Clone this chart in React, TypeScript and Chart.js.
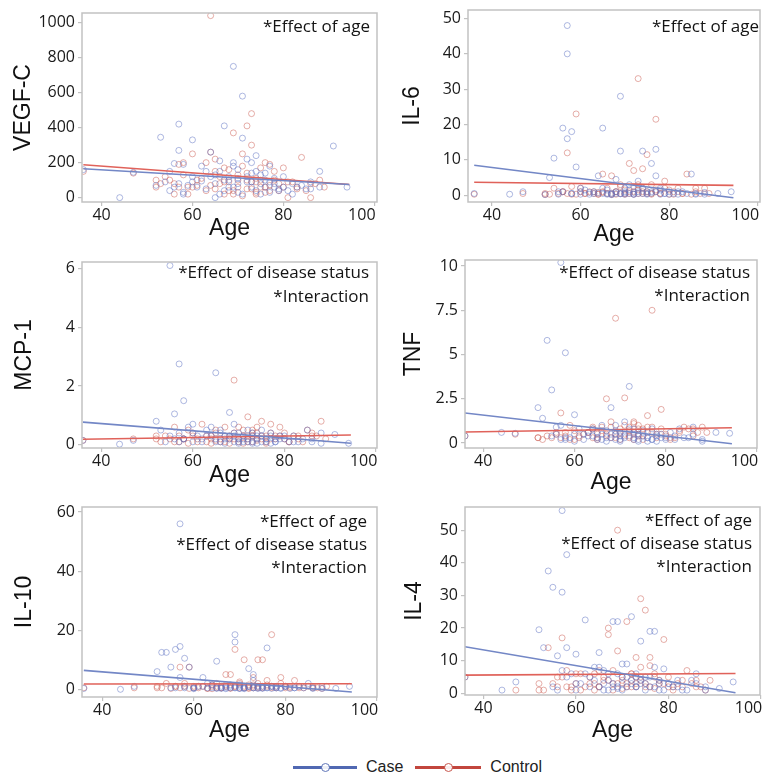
import React, { useEffect, useRef } from "react";
import { Chart, registerables } from "chart.js";

Chart.register(...registerables);

// ---------- data ----------
const caseAges = [36, 44, 47, 52, 53, 54, 55, 56, 56, 57, 57, 57, 58, 58, 59, 60, 60, 61, 62, 63, 64, 65, 65, 66, 67, 67, 68, 68, 69, 69, 69, 70, 70, 71, 71, 72, 72, 73, 73, 74, 74, 75, 76, 76, 77, 77, 78, 78, 79, 80, 81, 82, 83, 85, 86, 88, 91, 94,
  55, 58, 60, 62, 63, 64, 65, 66, 66, 67, 68, 69, 70, 70, 71, 72, 73, 73, 74, 75, 75, 76, 77, 78, 79, 80, 82, 84, 86, 88];
const controlAges = [36, 47, 52, 53, 54, 55, 56, 57, 57, 58, 59, 59, 60, 61, 62, 63, 64, 64, 65, 65, 66, 67, 67, 68, 68, 69, 69, 70, 70, 71, 71, 72, 72, 73, 73, 73, 74, 74, 75, 75, 76, 76, 77, 77, 78, 79, 80, 81, 82, 83, 84, 86, 87, 88,
  52, 56, 58, 60, 61, 63, 64, 65, 66, 67, 68, 69, 70, 71, 72, 72, 73, 74, 74, 75, 76, 77, 78, 79, 80, 81, 83, 85, 86, 89];

const vegfCase = [160, 0, 145, 70, 345, 90, 40, 195, 60, 420, 270, 80, 190, 30, 70, 330, 120, 60, 95, 150, 120, 0, 80, 210, 410, 40, 120, 100, 750, 60, 180, 110, 30, 580, 340, 220, 90, 140, 60, 240, 40, 130, 60, 100, 90, 30, 60, 110, 50, 120, 40, 80, 60, 50, 90, 150, 295, 60,
  150, 20, 90, 180, 50, 260, 130, 20, 150, 100, 60, 200, 80, 160, 20, 120, 90, 200, 150, 20, 80, 140, 180, 80, 40, 60, 20, 70, 50, 60];
const vegfControl = [150, 140, 60, 80, 120, 100, 20, 190, 60, 200, 60, 20, 250, 70, 110, 200, 1040, 260, 50, 150, 80, 20, 170, 90, 40, 370, 20, 130, 60, 250, 10, 410, 100, 480, 300, 50, 90, 20, 170, 60, 200, 30, 190, 70, 100, 40, 170, 0, 90, 60, 230, 0, 80, 100,
  100, 80, 130, 60, 100, 40, 70, 220, 120, 90, 160, 40, 100, 180, 50, 140, 90, 110, 30, 100, 60, 40, 150, 80, 60, 90, 50, 40, 80, 60];

const il6Case = [0.5, 0.3, 1, 0.2, 5, 10.5, 0.3, 19, 1, 48, 40, 16, 18, 0.5, 8, 1, 0.3, 1.5, 0.8, 0.5, 5.5, 19, 0.5, 0.3, 0.6, 0.2, 4.5, 0.5, 28, 12.5, 0.4, 1, 0.3, 1.5, 0.5, 0.8, 0.3, 4, 2, 12.5, 0.5, 0.5, 9, 1, 13, 5.5, 0.3, 1.5, 0.5, 1, 0.5, 0.3, 1, 6, 0.5, 0.3, 0.5, 1,
  1, 0.5, 2, 0.3, 1, 0.6, 2, 0.5, 1.5, 0.3, 1, 0.5, 2, 0.6, 3, 0.3, 1, 0.5, 2, 1, 0.3, 0.6, 1, 2, 0.5, 0.3, 1, 0.5, 0.3, 0.8];
const il6Control = [0.3, 0.5, 0.2, 0.3, 2, 0.5, 1, 12, 0.5, 2.5, 23, 0.3, 1, 0.5, 1, 0.5, 0.8, 0.3, 6, 1, 0.5, 5.5, 0.2, 1, 0.3, 2.5, 0.5, 1.5, 0.3, 9, 0.5, 7, 1, 33, 3, 0.5, 7.5, 1, 11.5, 0.5, 3, 0.5, 21.5, 1, 0.5, 4, 1.5, 0.3, 2, 0.5, 6, 1, 0.5, 2,
  0.5, 1, 0.3, 2, 0.5, 1, 0.3, 0.8, 2, 0.5, 1, 3, 0.5, 1, 2.5, 0.3, 1.5, 0.5, 2, 1, 0.3, 1.5, 0.5, 2, 0.3, 1, 0.5, 0.3, 2, 0.5];

const mcpCase = [0.15, 0.02, 0.15, 0.8, 0.5, 0.1, 6.1, 1.05, 0.2, 2.75, 0.4, 0.1, 1.5, 0.2, 0.6, 0.7, 0.1, 0.3, 0.2, 0.5, 0.3, 2.45, 0.1, 0.4, 0.2, 0.05, 1.1, 0.3, 0.7, 0.1, 0.4, 0.2, 0.05, 0.3, 0.1, 0.5, 0.2, 0.4, 0.1, 0.3, 0.05, 0.5, 0.2, 0.1, 0.3, 0.05, 0.2, 0.1, 0.3, 0.2, 0.1, 0.3, 0.1, 0.5, 0.2, 0.4, 0.35, 0.05,
  0.3, 0.2, 0.4, 0.1, 0.3, 0.6, 0.2, 0.1, 0.5, 0.3, 0.2, 0.3, 0.1, 0.4, 0.2, 0.1, 0.3, 0.05, 0.2, 0.1, 0.3, 0.2, 0.4, 0.1, 0.2, 0.3, 0.1, 0.2, 0.1, 0.05];
const mcpControl = [0.15, 0.2, 0.2, 0.1, 0.3, 0.2, 0.6, 0.3, 0.1, 0.2, 0.5, 0.05, 0.3, 0.2, 0.7, 0.1, 0.3, 0.05, 0.4, 0.15, 0.2, 0.6, 0.1, 0.3, 0.05, 2.2, 0.2, 0.6, 0.1, 0.3, 0.05, 0.95, 0.2, 0.5, 0.3, 0.1, 0.4, 0.15, 0.8, 0.2, 0.3, 0.05, 0.7, 0.2, 0.3, 0.6, 0.2, 0.1, 0.3, 0.2, 0.1, 0.4, 0.3, 0.8,
  0.3, 0.1, 0.2, 0.4, 0.1, 0.3, 0.2, 0.5, 0.1, 0.3, 0.2, 0.4, 0.2, 0.5, 0.1, 0.3, 0.4, 0.2, 0.6, 0.3, 0.1, 0.4, 0.2, 0.3, 0.4, 0.1, 0.3, 0.5, 0.3, 0.2];

const tnfCase = [0.4, 0.6, 0.55, 2.0, 1.4, 5.8, 3.0, 0.5, 0.9, 10.2, 0.2, 1.0, 5.1, 0.2, 0.3, 1.6, 0.1, 0.8, 0.5, 0.4, 0.8, 0.2, 0.6, 1.0, 0.3, 0.1, 2.0, 0.5, 1.0, 0.2, 0.7, 0.4, 0.1, 1.2, 0.3, 3.2, 0.6, 0.8, 0.2, 0.5, 0.1, 0.7, 0.3, 0.1, 0.8, 0.2, 0.4, 0.1, 0.5, 0.3, 0.6, 0.2, 0.8, 0.3, 0.9, 0.1, 0.6, 0.55,
  0.4, 0.3, 0.5, 0.2, 0.6, 0.4, 0.3, 0.5, 0.2, 0.7, 0.3, 0.5, 0.6, 0.2, 0.4, 0.8, 0.3, 0.5, 0.2, 0.4, 0.6, 0.3, 0.2, 0.5, 0.3, 0.2, 0.4, 0.3, 0.5, 0.2];
const tnfControl = [0.4, 0.5, 0.3, 0.2, 0.4, 0.3, 0.6, 1.7, 0.3, 0.4, 1.0, 0.2, 0.7, 0.3, 0.5, 0.6, 0.8, 0.3, 0.5, 0.2, 0.9, 2.5, 0.4, 1.2, 0.3, 7.05, 0.5, 0.8, 0.2, 2.55, 0.5, 0.9, 0.3, 1.2, 0.6, 0.2, 1.0, 0.4, 0.8, 0.2, 1.55, 0.6, 7.5, 0.9, 0.5, 1.9, 0.4, 0.2, 0.3, 0.7, 0.9, 0.8, 0.6, 0.9,
  0.3, 0.5, 0.6, 0.2, 0.4, 0.6, 0.9, 0.3, 0.7, 0.5, 0.9, 0.3, 0.6, 1.0, 0.4, 0.7, 1.1, 0.5, 0.8, 0.4, 0.9, 0.6, 0.3, 0.8, 0.5, 0.3, 0.6, 0.8, 0.4, 0.6];

const il10Case = [0.3, 0, 1, 6, 12.5, 12.5, 7.5, 13.5, 0.5, 56, 14.5, 4, 10.5, 0.5, 7.5, 0.5, 0.2, 1, 4, 0.5, 1.5, 9.5, 0.3, 0.5, 1, 0.2, 0.5, 1.5, 18.5, 16, 0.5, 1, 0.3, 0.5, 0.2, 7, 1, 5, 0.5, 1, 0.3, 0.5, 14, 0.5, 1, 0.3, 0.5, 1, 0.5, 1, 0.3, 0.5, 1, 2, 0.5, 0.3, 0.3, 1,
  0.5, 1, 0.5, 1, 2, 0.5, 0.5, 1, 0.3, 0.5, 1, 0.5, 1.5, 0.3, 0.5, 1, 0.5, 3, 0.5, 1, 0.3, 0.5, 1, 0.5, 0.3, 1, 0.5, 0.5, 0.3, 1];
const il10Control = [0.5, 0.5, 1, 0.5, 2, 0.3, 1, 7.5, 0.5, 1, 7.5, 0.3, 1, 0.5, 1, 0.3, 1.5, 0.2, 0.5, 1, 0.5, 5, 1, 5, 0.3, 13.5, 1, 2, 0.5, 10, 0.5, 1, 0.3, 4, 1.5, 0.5, 10, 1, 10, 0.5, 3, 1, 18.5, 1, 0.5, 4, 1, 0.5, 3, 1, 0.5, 1, 0.5, 0.3,
  0.5, 1, 2, 0.5, 1, 0.3, 1, 2, 0.5, 1.5, 0.5, 1, 2.5, 1, 0.5, 1.5, 1, 2, 0.5, 1, 1.5, 0.5, 1, 2, 0.5, 1, 0.5, 1, 0.5, 1];

const il4Case = [5, 1, 3.5, 19.5, 14, 37.5, 32.5, 11.5, 1, 56, 31, 7, 42.5, 14, 6, 12, 1, 3, 22.5, 5, 8, 12.5, 2, 7, 4, 1, 22, 2, 22, 6, 1.5, 9, 3, 5, 2, 23.5, 4, 6, 2, 16, 3, 5, 19, 2, 19, 8, 3, 1, 7.5, 3, 2, 4, 1, 4, 6, 2, 1.5, 3.5,
  2, 5, 3, 6, 2, 4, 8, 3, 1, 6, 3, 2, 5, 1, 9, 3, 5, 2, 4, 3, 1, 5, 2, 4, 1, 3, 2, 1, 3, 1];
const il4Control = [5, 1, 1, 1, 14, 3, 2, 17, 5, 7, 2, 1, 3, 6, 2, 5, 3, 1, 7, 2, 4, 20, 18, 3, 1, 50, 13, 4, 1.5, 22, 3, 6, 2, 11, 5, 2, 29, 4, 25.5, 2, 11, 8.5, 5, 1.5, 3, 16.5, 2, 1, 3, 2, 7, 4, 2, 1,
  3, 5, 2, 6, 1, 3, 6, 2, 5, 4, 7, 3, 5, 2, 4, 6, 3, 5, 8, 3, 2, 6, 4, 3, 5, 2, 4, 3, 2, 4];

// fitted regression lines (value at first and last age)
const fitAges = [36, 94.5];
const vegfCaseFit = [165, 75];
const vegfControlFit = [188, 75];
const il6CaseFit = [8.5, -0.7];
const il6ControlFit = [3.7, 2.8];
const mcpCaseFit = [0.77, 0.05];
const mcpControlFit = [0.19, 0.33];
const tnfCaseFit = [1.7, -0.04];
const tnfControlFit = [0.62, 0.86];
const il10CaseFit = [6.4, -0.9];
const il10ControlFit = [1.8, 1.9];
const il4CaseFit = [14.3, 0.2];
const il4ControlFit = [5.6, 6.1];

// tick labels
const ageTicks = [40, 60, 80, 100];
const vegfTicks = [0, 200, 400, 600, 800, 1000];
const il6Ticks = [0, 10, 20, 30, 40, 50];
const mcpTicks = [0, 2, 4, 6];
const tnfTicks = [0, 2.5, 5, 7.5, 10];
const il10Ticks = [0, 20, 40, 60];
const il4Ticks = [0, 10, 20, 30, 40, 50];

const noteAge = "*Effect of age";
const noteDisease = "*Effect of disease status";
const noteInteraction = "*Interaction";

// ---------- styles ----------
const BLUE_PT = "rgba(95,115,195,0.5)";
const RED_PT = "rgba(205,95,85,0.5)";
const BLUE_LINE = "#7387c6";
const RED_LINE = "#e0625a";
const FRAME = "#c2c2c2";
const TICK_FONT = "'Open Sans', 'Noto Sans', sans-serif";
const TITLE_FONT = "'Liberation Sans', Arial, sans-serif";

type Rect = { left: number; top: number; w: number; h: number };
type PanelCfg = {
  title: string;
  caseVals: number[];
  controlVals: number[];
  caseFit: number[];
  controlFit: number[];
  yTicks: number[];
  yMin: number;
  yMax: number;
  xMin: number;
  xMax: number;
  canvas: Rect;
  plot: { L: number; T: number; R: number; B: number };
  yTitleX: number;
  ageY: number;
  notes: string[];
  noteRight: number;
  noteTop: number;
  noteGap: number;
};

const panels: PanelCfg[] = [
  {
    title: "VEGF-C", caseVals: vegfCase, controlVals: vegfControl, caseFit: vegfCaseFit, controlFit: vegfControlFit,
    yTicks: vegfTicks, yMin: -25, yMax: 1055, xMin: 35.7, xMax: 100.6,
    canvas: { left: 0, top: 0, w: 382, h: 255 }, plot: { L: 82, T: 13, R: 377, B: 202 },
    yTitleX: 24, ageY: 229, notes: [noteAge], noteRight: 7, noteTop: 14, noteGap: 23,
  },
  {
    title: "IL-6", caseVals: il6Case, controlVals: il6Control, caseFit: il6CaseFit, controlFit: il6ControlFit,
    yTicks: il6Ticks, yMin: -1.9, yMax: 52.4, xMin: 34.6, xMax: 100.5,
    canvas: { left: 382, top: 0, w: 385, h: 255 }, plot: { L: 468, T: 10, R: 760, B: 202 },
    yTitleX: 413, ageY: 235, notes: [noteAge], noteRight: 1, noteTop: 17, noteGap: 23,
  },
  {
    title: "MCP-1", caseVals: mcpCase, controlVals: mcpControl, caseFit: mcpCaseFit, controlFit: mcpControlFit,
    yTicks: mcpTicks, yMin: -0.11, yMax: 6.22, xMin: 35.8, xMax: 100.2,
    canvas: { left: 0, top: 250, w: 382, h: 245 }, plot: { L: 82, T: 262, R: 378, B: 448 },
    yTitleX: 25, ageY: 476, notes: [noteDisease, noteInteraction], noteRight: 8, noteTop: 11, noteGap: 24,
  },
  {
    title: "TNF", caseVals: tnfCase, controlVals: tnfControl, caseFit: tnfCaseFit, controlFit: tnfControlFit,
    yTicks: tnfTicks, yMin: -0.28, yMax: 10.34, xMin: 36.0, xMax: 100.0,
    canvas: { left: 382, top: 250, w: 385, h: 245 }, plot: { L: 465, T: 260, R: 757, B: 448 },
    yTitleX: 414, ageY: 483, notes: [noteDisease, noteInteraction], noteRight: 7, noteTop: 13, noteGap: 23,
  },
  {
    title: "IL-10", caseVals: il10Case, controlVals: il10Control, caseFit: il10CaseFit, controlFit: il10ControlFit,
    yTicks: il10Ticks, yMin: -2.6, yMax: 61.7, xMin: 35.6, xMax: 100.0,
    canvas: { left: 0, top: 490, w: 382, h: 260 }, plot: { L: 82, T: 507, R: 380, B: 697 },
    yTitleX: 25, ageY: 731, notes: [noteAge, noteDisease, noteInteraction], noteRight: 10, noteTop: 15, noteGap: 23,
  },
  {
    title: "IL-4", caseVals: il4Case, controlVals: il4Control, caseFit: il4CaseFit, controlFit: il4ControlFit,
    yTicks: il4Ticks, yMin: -0.5, yMax: 57.1, xMin: 36.0, xMax: 99.8,
    canvas: { left: 382, top: 490, w: 385, h: 260 }, plot: { L: 465, T: 507, R: 760, B: 695 },
    yTitleX: 415, ageY: 731, notes: [noteAge, noteDisease, noteInteraction], noteRight: 8, noteTop: 14, noteGap: 23,
  },
];

function Panel({ cfg }: { cfg: PanelCfg }) {
  const ref = useRef<HTMLCanvasElement>(null);
  useEffect(() => {
    const c = cfg;
    const titleSize = 23;
    const half = (titleSize * 1.2) / 2;
    const framePlugin = {
      id: "frameAndNotes",
      afterDatasetsDraw(chart: any) {
        const { ctx, chartArea } = chart;
        ctx.save();
        ctx.strokeStyle = FRAME;
        ctx.lineWidth = 1.5;
        ctx.strokeRect(chartArea.left, chartArea.top, chartArea.right - chartArea.left, chartArea.bottom - chartArea.top);
        ctx.fillStyle = "#141414";
        ctx.font = `17px ${TICK_FONT}`;
        ctx.textAlign = "right";
        ctx.textBaseline = "middle";
        c.notes.forEach((t, i) => {
          ctx.fillText(t, chartArea.right - c.noteRight, chartArea.top + c.noteTop + i * c.noteGap);
        });
        ctx.restore();
      },
    };
    const fmt = (v: any) => String(v);
    // last age label sits a little left of its tick, as in the original figure
    const fmtAge = (v: any) => (v === ageTicks[ageTicks.length - 1] ? String(v) + "      " : String(v));
    const chart = new Chart(ref.current as HTMLCanvasElement, {
      type: "scatter",
      data: {
        datasets: [
          {
            type: "line",
            label: "Case fit",
            data: fitAges.map((x, i) => ({ x, y: c.caseFit[i] })),
            borderColor: BLUE_LINE,
            borderWidth: 1.6,
            pointRadius: 0,
            fill: false,
            order: 0,
          } as any,
          {
            type: "line",
            label: "Control fit",
            data: fitAges.map((x, i) => ({ x, y: c.controlFit[i] })),
            borderColor: RED_LINE,
            borderWidth: 1.6,
            pointRadius: 0,
            fill: false,
            order: 0,
          } as any,
          {
            type: "scatter",
            label: "Case",
            data: caseAges.map((x, i) => ({ x, y: c.caseVals[i] })),
            pointRadius: 3,
            borderWidth: 1,
            borderColor: BLUE_PT,
            backgroundColor: "rgba(0,0,0,0)",
            order: 1,
          },
          {
            type: "scatter",
            label: "Control",
            data: controlAges.map((x, i) => ({ x, y: c.controlVals[i] })),
            pointRadius: 3,
            borderWidth: 1,
            borderColor: RED_PT,
            backgroundColor: "rgba(0,0,0,0)",
            order: 1,
          },
        ],
      },
      options: {
        animation: false,
        responsive: false,
        maintainAspectRatio: false,
        events: [],
        layout: {
          padding: {
            top: c.plot.T - c.canvas.top,
            right: c.canvas.left + c.canvas.w - c.plot.R,
            left: 0,
            bottom: 0,
          },
        },
        plugins: { legend: { display: false }, tooltip: { enabled: false } },
        scales: {
          x: {
            type: "linear",
            min: c.xMin,
            max: c.xMax,
            afterBuildTicks: (s: any) => {
              s.ticks = ageTicks.map((v) => ({ value: v }));
            },
            afterFit: (s: any) => {
              s.height = c.canvas.top + c.canvas.h - c.plot.B;
              s.paddingLeft = 0;
              s.paddingRight = 0;
            },
            grid: { display: true, drawOnChartArea: false, drawTicks: true, tickLength: 4, color: FRAME, lineWidth: 1.2 },
            border: { display: false },
            ticks: { font: { family: TICK_FONT, size: 16 }, color: "#1a1a1a", padding: 0, maxRotation: 0, autoSkip: false, callback: fmtAge },
            title: {
              display: true,
              text: "Age",
              font: { family: TITLE_FONT, size: titleSize },
              color: "#111",
              padding: { top: 0, bottom: c.canvas.top + c.canvas.h - c.ageY - half },
            },
          },
          y: {
            type: "linear",
            min: c.yMin,
            max: c.yMax,
            afterBuildTicks: (s: any) => {
              s.ticks = c.yTicks.map((v) => ({ value: v }));
            },
            afterFit: (s: any) => {
              s.width = c.plot.L - c.canvas.left;
              s.paddingTop = 0;
              s.paddingBottom = 0;
            },
            grid: { display: true, drawOnChartArea: false, drawTicks: true, tickLength: 4, color: FRAME, lineWidth: 1.2 },
            border: { display: false },
            ticks: { font: { family: TICK_FONT, size: 16 }, color: "#1a1a1a", padding: 3, autoSkip: false, callback: fmt },
            title: {
              display: true,
              text: c.title,
              font: { family: TITLE_FONT, size: titleSize },
              color: "#111",
              padding: { top: c.yTitleX - c.canvas.left - half, bottom: 0 },
            },
          },
        },
      },
      plugins: [framePlugin],
    } as any);
    return () => chart.destroy();
  }, [cfg]);
  return (
    <canvas
      ref={ref}
      width={cfg.canvas.w}
      height={cfg.canvas.h}
      style={{ position: "absolute", left: cfg.canvas.left, top: cfg.canvas.top, width: cfg.canvas.w, height: cfg.canvas.h }}
    />
  );
}

function LegendItem({ color, label, width }: { color: string; label: string; width: number }) {
  return (
    <div style={{ display: "flex", alignItems: "center", marginRight: 12 }}>
      <div style={{ position: "relative", width, height: 10 }}>
        <div style={{ position: "absolute", left: 0, top: 4, width, height: 2.5, background: color }} />
        <div
          style={{
            position: "absolute",
            left: width / 2 - 4.5,
            top: 0.5,
            width: 7,
            height: 7,
            borderRadius: "50%",
            border: `1.2px solid ${color}`,
            background: "#fff",
            opacity: 0.9,
          }}
        />
      </div>
      <span style={{ marginLeft: 9, fontFamily: TITLE_FONT, fontSize: 16, color: "#222" }}>{label}</span>
    </div>
  );
}

export default function App() {
  return (
    <div style={{ position: "absolute", left: 0, top: 0, width: 767, height: 779, background: "#fff", overflow: "hidden" }}>
      {panels.map((p) => (
        <Panel key={p.title} cfg={p} />
      ))}
      <div style={{ position: "absolute", left: 293, top: 756, display: "flex", alignItems: "center", height: 22 }}>
        <LegendItem color="#5068b2" label="Case" width={64} />
        <LegendItem color="#c2463d" label="Control" width={66} />
      </div>
    </div>
  );
}
